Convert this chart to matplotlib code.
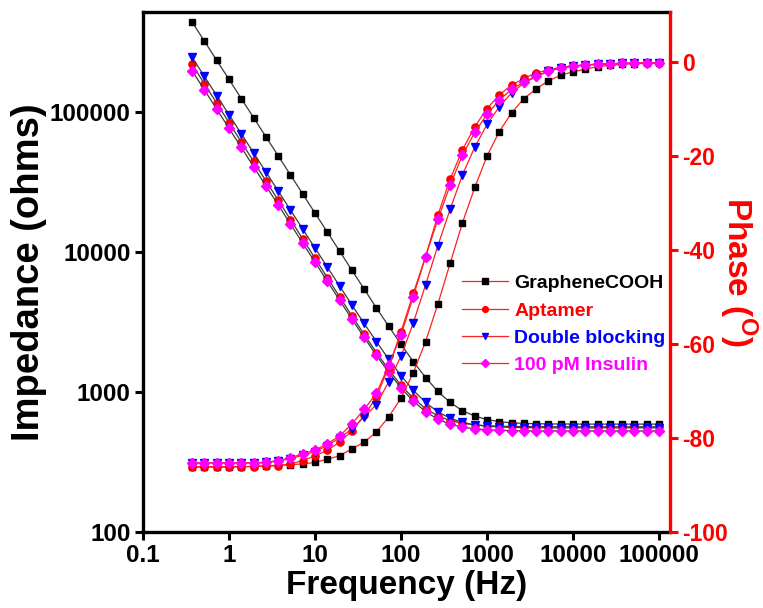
import matplotlib
matplotlib.use('Agg')
import matplotlib.pyplot as plt
from matplotlib.ticker import FixedLocator, FixedFormatter, NullLocator

plt.rcParams['font.family'] = ['Liberation Sans', 'DejaVu Sans']
plt.rcParams['font.weight'] = 'bold'
plt.rcParams['mathtext.fontset'] = 'custom'
plt.rcParams['mathtext.rm'] = 'Liberation Sans:bold'
plt.rcParams['mathtext.bf'] = 'Liberation Sans:bold'

# frequency points (Hz), ~7 per decade
freq = [0.373, 0.518, 0.72, 1, 1.39, 1.93, 2.68, 3.73, 5.18, 7.2,
        10, 13.9, 19.3, 26.8, 37.3, 51.8, 72, 100, 139, 193,
        268, 373, 518, 720, 1000, 1390, 1930, 2680, 3730, 5180,
        7200, 10000, 13900, 19300, 26800, 37300, 51800, 72000, 100000]

# impedance (ohms)
z_cooh = [439500, 321300, 234400, 171400, 125000, 91400, 66800, 48800, 35600, 26010,
          19010, 13910, 10160, 7430, 5440, 3990, 2950, 2190, 1650, 1270,
          1010, 842, 736, 674, 636, 614, 603, 597, 594, 592,
          591, 591, 590, 590, 590, 590, 590, 590, 590]
z_apt = [219300, 159400, 115800, 84200, 61200, 44460, 32330, 23500, 17080, 12420,
         9034, 6577, 4796, 3508, 2579, 1913, 1444, 1119, 901, 761,
         676, 626, 598, 583, 574, 570, 568, 566, 566, 565,
         565, 565, 565, 565, 565, 565, 565, 565, 565]
z_block = [246000, 179800, 131350, 95960, 70110, 51230, 37430, 27360, 19990, 14610,
           10680, 7814, 5720, 4197, 3089, 2289, 1714, 1309, 1029, 842,
           722, 650, 607, 583, 570, 563, 559, 557, 556, 555,
           555, 555, 555, 555, 555, 555, 555, 555, 555]
z_ins = [197200, 143950, 105050, 76660, 55950, 40830, 29800, 21760, 15880, 11590,
         8469, 6191, 4533, 3328, 2455, 1828, 1381, 1071, 860, 724,
         639, 589, 561, 546, 537, 532, 530, 528, 527, 527,
         527, 527, 527, 527, 527, 527, 527, 527, 527]

# phase (degrees)
p_cooh = [-86.2, -86.2, -86.2, -86.2, -86.1, -86.0, -85.9, -85.8, -85.7, -85.5,
          -85.2, -84.5, -83.8, -82.3, -80.9, -78.7, -75.5, -71.5, -66.1, -59.5,
          -51.5, -42.8, -34.2, -26.7, -20.0, -14.8, -10.8, -7.8, -5.7, -4.0,
          -2.8, -2.1, -1.5, -1.0, -0.7, -0.5, -0.35, -0.3, -0.25]
p_apt = [-86.1, -86.1, -86.1, -86.1, -86.1, -86.1, -86.0, -85.9, -85.5, -84.8,
         -83.8, -82.6, -80.9, -78.5, -75.2, -71.3, -64.8, -57.4, -49.2, -41.4,
         -32.6, -24.9, -18.7, -13.8, -9.9, -7.0, -4.9, -3.5, -2.3, -1.7,
         -1.1, -0.85, -0.64, -0.5, -0.4, -0.3, -0.25, -0.2, -0.2]
p_block = [-85.3, -85.3, -85.3, -85.3, -85.3, -85.3, -85.2, -84.9, -84.4, -83.7,
           -82.9, -81.6, -80.0, -78.1, -75.5, -72.9, -68.0, -62.6, -55.5, -47.4,
           -39.1, -31.3, -24.0, -18.1, -13.3, -9.5, -6.6, -4.5, -3.1, -2.0,
           -1.3, -0.9, -0.65, -0.5, -0.4, -0.3, -0.25, -0.2, -0.2]
p_ins = [-85.3, -85.3, -85.3, -85.3, -85.3, -85.3, -85.2, -84.8, -84.2, -83.4,
         -82.6, -81.2, -79.6, -77.0, -73.9, -70.5, -64.5, -58.1, -49.9, -41.4,
         -33.5, -26.2, -19.8, -15.0, -11.1, -8.1, -5.8, -4.3, -3.0, -1.9,
         -1.3, -0.85, -0.6, -0.45, -0.35, -0.3, -0.25, -0.2, -0.2]

labels = ['GrapheneCOOH', 'Aptamer', 'Double blocking', '100 pM Insulin']
colors = ['#000000', '#ff0000', '#0000ff', '#ff00ff']
markers = ['s', 'o', 'v', 'D']
msizes = [4.8, 5.2, 5.8, 4.8]
z_all = [z_cooh, z_apt, z_block, z_ins]
p_all = [p_cooh, p_apt, p_block, p_ins]

x_ticks = [0.1, 1, 10, 100, 1000, 10000, 100000]
x_tick_labels = ['0.1', '1', '10', '100', '1000', '10000', '100000']
y_ticks = [100, 1000, 10000, 100000]
y_tick_labels = ['100', '1000', '10000', '100000']
p_ticks = [-100, -80, -60, -40, -20, 0]

fig = plt.figure(figsize=(7.63, 6.08), dpi=100)
ax = fig.add_axes([0.1874, 0.125, 0.6907, 0.855])
ax2 = ax.twinx()

for z, c, m, ms in zip(z_all, colors, markers, msizes):
    ax.plot(freq, z, color='#3a3a3a', lw=0.9, marker=m, ms=ms,
            mfc=c, mec=c, zorder=3)

for p, c, m, ms, lab in zip(p_all, colors, markers, msizes, labels):
    ax2.plot(freq, p, color='#ff2020', lw=0.9, marker=m, ms=ms,
             mfc=c, mec=c, label=lab, zorder=3)

ax.set_xscale('log')
ax.set_yscale('log')
ax.set_xlim(0.1, 134000)
ax.set_ylim(100, 518000)
ax2.set_ylim(-100, 10.6)

ax.xaxis.set_major_locator(FixedLocator(x_ticks))
ax.xaxis.set_major_formatter(FixedFormatter(x_tick_labels))
ax.xaxis.set_minor_locator(NullLocator())
ax.yaxis.set_major_locator(FixedLocator(y_ticks))
ax.yaxis.set_major_formatter(FixedFormatter(y_tick_labels))
ax.yaxis.set_minor_locator(NullLocator())
ax2.set_yticks(p_ticks)
ax2.set_yticklabels([str(t) for t in p_ticks])

for s in ['left', 'bottom', 'top']:
    ax.spines[s].set_linewidth(2.4)
ax.spines['right'].set_visible(False)
for s in ['left', 'bottom', 'top']:
    ax2.spines[s].set_visible(False)
ax2.spines['right'].set_linewidth(2.4)
ax2.spines['right'].set_color('#ff0000')

ax.tick_params(axis='both', which='major', direction='out', length=6, width=2.2,
               labelsize=17.5, pad=3)
ax2.tick_params(axis='y', which='major', direction='out', length=6, width=2.2,
                labelsize=16.5, color='#ff0000', labelcolor='#ff0000', pad=3)
for t in ax.get_xticklabels() + ax.get_yticklabels() + ax2.get_yticklabels():
    t.set_fontweight('bold')

ax.set_xlabel('Frequency (Hz)', fontsize=24, fontweight='bold', labelpad=2)
ax.set_ylabel('Impedance (ohms)', fontsize=27.5, fontweight='bold', labelpad=2)
ax2.set_ylabel(r'Phase ($^{\mathrm{O}}$)', fontsize=24, fontweight='bold',
               color='#ff0000', rotation=270, labelpad=22)

leg = ax2.legend(loc='upper left', bbox_to_anchor=(0.59, 0.51), frameon=False,
                 fontsize=14, handlelength=2.4, labelspacing=0.5,
                 handletextpad=0.3, markerscale=0.8, borderaxespad=0)
for t, c in zip(leg.get_texts(), colors):
    t.set_color(c)
    t.set_fontweight('bold')

fig.savefig('out.png', dpi=100)
